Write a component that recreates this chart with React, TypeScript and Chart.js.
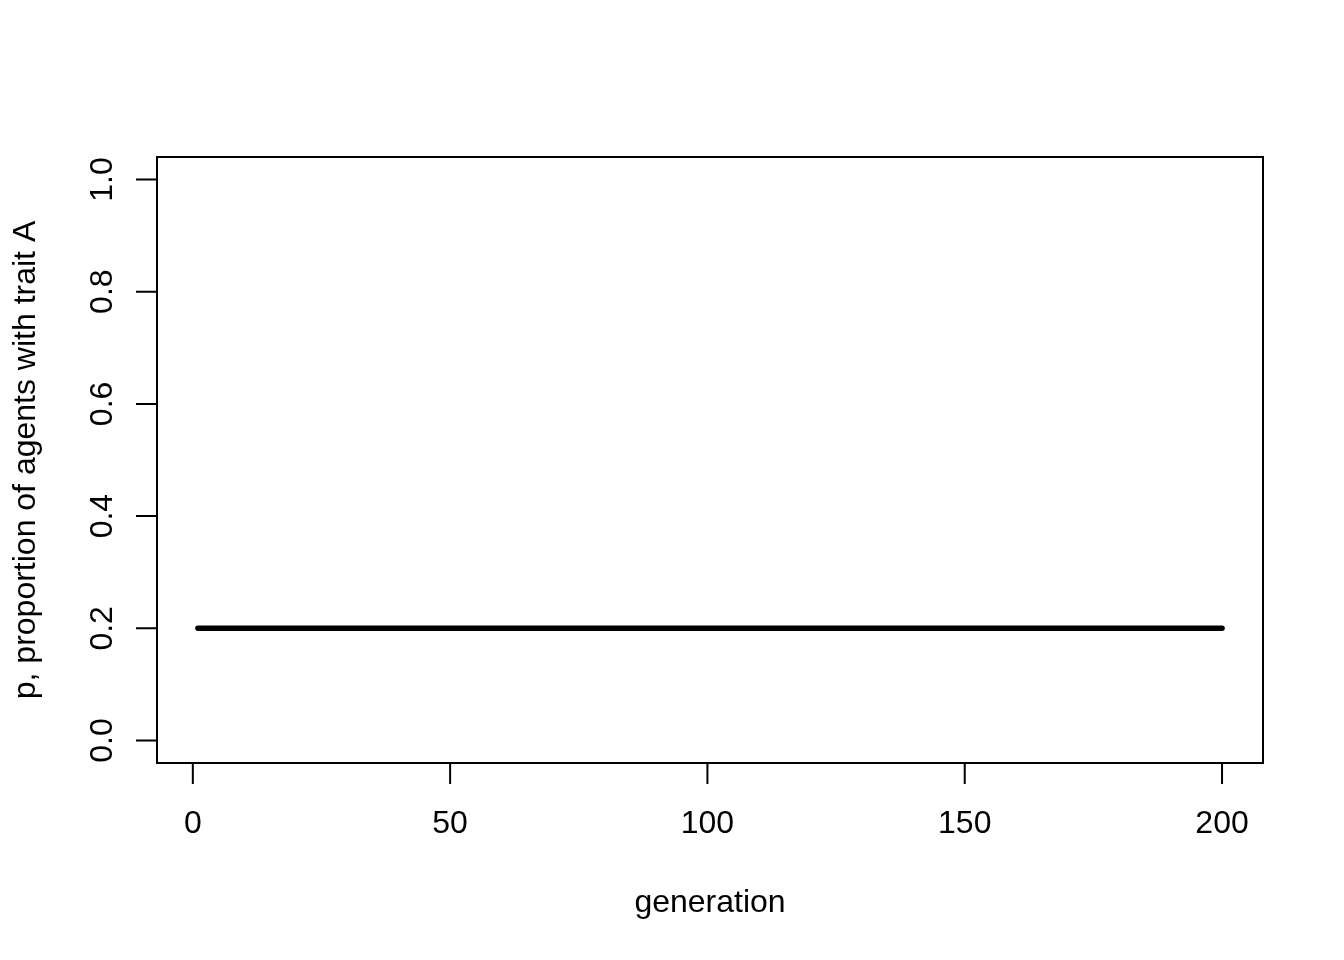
import React, { useEffect, useRef } from "react";
import { Chart, registerables } from "chart.js";

Chart.register(...registerables);

// generation index 1..200
const generations: number[] = Array.from({ length: 200 }, (_, i) => i + 1);

// p, proportion of agents with trait A (read as constant 0.2)
const pValues: number[] = [
  0.2, 0.2, 0.2, 0.2, 0.2, 0.2, 0.2, 0.2, 0.2, 0.2, 0.2, 0.2, 0.2, 0.2, 0.2, 0.2, 0.2, 0.2, 0.2, 0.2,
  0.2, 0.2, 0.2, 0.2, 0.2, 0.2, 0.2, 0.2, 0.2, 0.2, 0.2, 0.2, 0.2, 0.2, 0.2, 0.2, 0.2, 0.2, 0.2, 0.2,
  0.2, 0.2, 0.2, 0.2, 0.2, 0.2, 0.2, 0.2, 0.2, 0.2, 0.2, 0.2, 0.2, 0.2, 0.2, 0.2, 0.2, 0.2, 0.2, 0.2,
  0.2, 0.2, 0.2, 0.2, 0.2, 0.2, 0.2, 0.2, 0.2, 0.2, 0.2, 0.2, 0.2, 0.2, 0.2, 0.2, 0.2, 0.2, 0.2, 0.2,
  0.2, 0.2, 0.2, 0.2, 0.2, 0.2, 0.2, 0.2, 0.2, 0.2, 0.2, 0.2, 0.2, 0.2, 0.2, 0.2, 0.2, 0.2, 0.2, 0.2,
  0.2, 0.2, 0.2, 0.2, 0.2, 0.2, 0.2, 0.2, 0.2, 0.2, 0.2, 0.2, 0.2, 0.2, 0.2, 0.2, 0.2, 0.2, 0.2, 0.2,
  0.2, 0.2, 0.2, 0.2, 0.2, 0.2, 0.2, 0.2, 0.2, 0.2, 0.2, 0.2, 0.2, 0.2, 0.2, 0.2, 0.2, 0.2, 0.2, 0.2,
  0.2, 0.2, 0.2, 0.2, 0.2, 0.2, 0.2, 0.2, 0.2, 0.2, 0.2, 0.2, 0.2, 0.2, 0.2, 0.2, 0.2, 0.2, 0.2, 0.2,
  0.2, 0.2, 0.2, 0.2, 0.2, 0.2, 0.2, 0.2, 0.2, 0.2, 0.2, 0.2, 0.2, 0.2, 0.2, 0.2, 0.2, 0.2, 0.2, 0.2,
  0.2, 0.2, 0.2, 0.2, 0.2, 0.2, 0.2, 0.2, 0.2, 0.2, 0.2, 0.2, 0.2, 0.2, 0.2, 0.2, 0.2, 0.2, 0.2, 0.2,
];

const xTicks: number[] = [0, 50, 100, 150, 200];
const xTickLabels: string[] = ["0", "50", "100", "150", "200"];
const yTicks: number[] = [0, 0.2, 0.4, 0.6, 0.8, 1.0];
const yTickLabels: string[] = ["0.0", "0.2", "0.4", "0.6", "0.8", "1.0"];

const xTitle = "generation";
const yTitle = "p, proportion of agents with trait A";

const FONT = '32px "Liberation Sans", Arial, Helvetica, sans-serif';

const rAxesPlugin = {
  id: "rAxes",
  afterDraw(chart: any) {
    const ctx = chart.ctx as CanvasRenderingContext2D;
    const area = chart.chartArea;
    const xs = chart.scales.x;
    const ys = chart.scales.y;
    ctx.save();
    ctx.strokeStyle = "#000";
    ctx.fillStyle = "#000";
    ctx.lineWidth = 2;
    // box
    ctx.strokeRect(area.left, area.top, area.right - area.left, area.bottom - area.top);
    // x axis line + ticks
    const x0 = xs.getPixelForValue(xTicks[0]);
    const x1 = xs.getPixelForValue(xTicks[xTicks.length - 1]);
    ctx.beginPath();
    ctx.moveTo(x0, area.bottom);
    ctx.lineTo(x1, area.bottom);
    xTicks.forEach((t) => {
      const px = xs.getPixelForValue(t);
      ctx.moveTo(px, area.bottom);
      ctx.lineTo(px, area.bottom + 21);
    });
    // y axis line + ticks
    const y0 = ys.getPixelForValue(yTicks[0]);
    const y1 = ys.getPixelForValue(yTicks[yTicks.length - 1]);
    ctx.moveTo(area.left, y0);
    ctx.lineTo(area.left, y1);
    yTicks.forEach((t) => {
      const py = ys.getPixelForValue(t);
      ctx.moveTo(area.left, py);
      ctx.lineTo(area.left - 21, py);
    });
    ctx.stroke();

    ctx.font = FONT;
    // x tick labels
    ctx.textAlign = "center";
    ctx.textBaseline = "alphabetic";
    xTicks.forEach((t, i) => {
      ctx.fillText(xTickLabels[i], xs.getPixelForValue(t), area.bottom + 70);
    });
    // x title
    ctx.fillText(xTitle, (area.left + area.right) / 2, 912);
    // y tick labels (rotated)
    yTicks.forEach((t, i) => {
      const py = ys.getPixelForValue(t);
      ctx.save();
      ctx.translate(area.left - 45, py);
      ctx.rotate(-Math.PI / 2);
      ctx.textAlign = "center";
      ctx.textBaseline = "alphabetic";
      ctx.fillText(yTickLabels[i], 0, 0);
      ctx.restore();
    });
    // y title
    ctx.save();
    ctx.translate(35, (area.top + area.bottom) / 2);
    ctx.rotate(-Math.PI / 2);
    ctx.textAlign = "center";
    ctx.textBaseline = "alphabetic";
    ctx.fillText(yTitle, 0, 0);
    ctx.restore();
    ctx.restore();
  },
};

export default function App() {
  const canvasRef = useRef<HTMLCanvasElement | null>(null);

  useEffect(() => {
    document.body.style.margin = "0";
    const canvas = canvasRef.current;
    if (!canvas) return;
    const chart = new Chart(canvas, {
      type: "line",
      data: {
        datasets: [
          {
            data: generations.map((g, i) => ({ x: g, y: pValues[i] })),
            borderColor: "#000",
            borderWidth: 5.5,
            borderCapStyle: "round",
            borderJoinStyle: "round",
            pointRadius: 0,
            tension: 0,
            fill: false,
            clip: false as any,
          },
        ],
      },
      options: {
        responsive: false,
        animation: false,
        layout: { padding: { left: 157, right: 81, top: 157, bottom: 197 } },
        plugins: { legend: { display: false }, tooltip: { enabled: false } },
        events: [],
        scales: {
          x: { type: "linear", min: -6.96, max: 207.96, display: false },
          y: { type: "linear", min: -0.04, max: 1.04, display: false },
        },
      },
      plugins: [rAxesPlugin],
    });
    return () => chart.destroy();
  }, []);

  return (
    <div style={{ position: "absolute", left: 0, top: 0, width: 1344, height: 960, background: "#fff" }}>
      <canvas ref={canvasRef} width={1344} height={960} />
    </div>
  );
}
